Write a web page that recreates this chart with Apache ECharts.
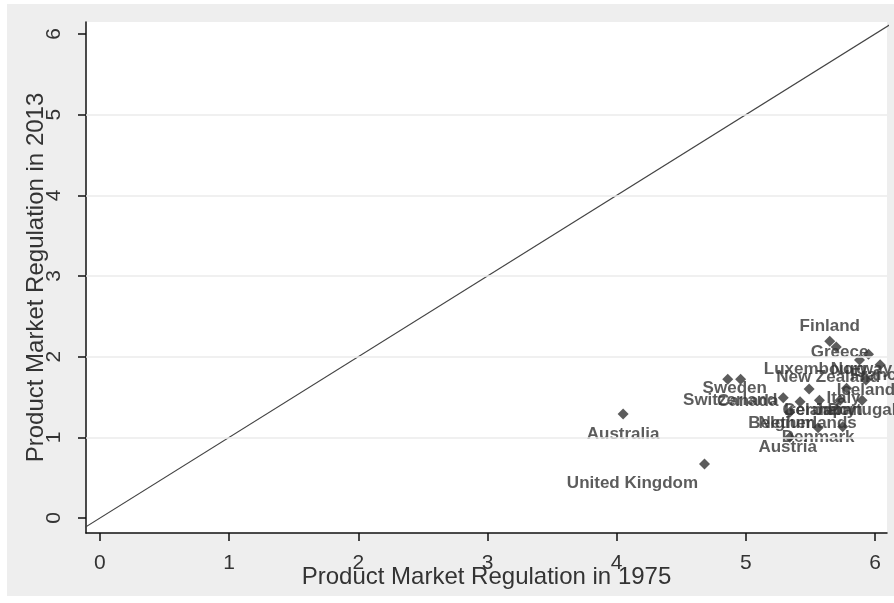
<!DOCTYPE html>
<html>
<head>
<meta charset="utf-8">
<title>Product Market Regulation, 1975 vs 2013</title>
<script src="https://cdn.jsdelivr.net/npm/echarts@6/dist/echarts.min.js"></script>
<style>
  html, body { margin: 0; padding: 0; background: #ffffff; }
  #chart { width: 894px; height: 603px; }
</style>
</head>
<body>
<div id="chart"></div>
<script>
// Country scores on the product market regulation index
const countries = [
  'Australia', 'United Kingdom', 'Finland', 'Greece', 'Luxembourg', 'Norway',
  'New Zealand', 'Iceland', 'Italy', 'Ireland', 'Portugal', 'Japan',
  'Belgium', 'Netherlands', 'Denmark', 'Austria', 'Sweden', 'Canada',
  'Switzerland', 'France', 'Germany'
];
const pmr1975 = [
  4.05, 4.68, 5.65, 5.95, 5.70, 5.88,
  5.49, 5.93, 5.78, 5.42, 5.90, 5.73,
  5.34, 5.75, 5.56, 5.34, 4.86, 4.96,
  5.29, 6.04, 5.57
];
const pmr2013 = [
  1.29, 0.67, 2.19, 2.03, 2.12, 1.96,
  1.60, 1.71, 1.61, 1.44, 1.46, 1.46,
  1.31, 1.13, 1.12, 1.00, 1.72, 1.72,
  1.49, 1.90, 1.46
];
const xTicks = [0, 1, 2, 3, 4, 5, 6];
const yTicks = [0, 1, 2, 3, 4, 5, 6];
// Horizontal grid lines
const yGrid = [1, 2, 3, 4, 5];
// 45-degree reference line y = x over this span
const diagonalSpan = [-0.2, 6.2];

// Marker label placement (pixel offset of the label centre from its marker)
const labelOffset = {
  'Australia': [0, 20], 'United Kingdom': [-72, 19], 'Finland': [0, -15],
  'Greece': [-29, -2], 'Luxembourg': [-21, 22], 'Norway': [2, 9],
  'New Zealand': [19, -12], 'Iceland': [0, 10], 'Italy': [-3, 10],
  'Ireland': [12, 8], 'Portugal': [0, 10], 'Japan': [-2, 10],
  'Belgium': [-8, 11], 'Netherlands': [-35, -4], 'Denmark': [0, 10],
  'Austria': [-2, 10], 'Sweden': [7, 9], 'Canada': [7, 22],
  'Switzerland': [-53, 3], 'France': [-2, 11], 'Germany': [0, 10]
};

const points = countries.map((name, i) => ({
  name: name,
  value: [pmr1975[i], pmr2013[i]],
  label: { offset: labelOffset[name] || [0, 12] }
}));

const FONT = '"Liberation Sans", Arial, sans-serif';
const AXIS_COLOR = '#111111';
const TEXT_COLOR = '#333333';

const chart = echarts.init(document.getElementById('chart'), null, { renderer: 'canvas' });

chart.setOption({
  animation: false,
  backgroundColor: '#ffffff',
  textStyle: { fontFamily: FONT },
  graphic: [{
    type: 'rect',
    z: -10,
    silent: true,
    shape: { x: 7, y: 4, width: 887, height: 592 },
    style: { fill: '#eeeeee' }
  }],
  grid: {
    left: 86, right: 7, top: 22, bottom: 70,
    show: true, backgroundColor: '#ffffff', borderWidth: 0
  },
  xAxis: {
    type: 'value',
    min: -0.108, max: 6.093,
    name: 'Product Market Regulation in 1975',
    nameLocation: 'middle',
    nameGap: 32,
    nameMoveOverlap: false,
    nameTextStyle: { fontSize: 24, color: TEXT_COLOR, fontFamily: FONT },
    axisLine: { onZero: false, lineStyle: { color: AXIS_COLOR, width: 1.5 } },
    axisTick: { customValues: xTicks, length: 8, lineStyle: { color: AXIS_COLOR, width: 1.5 } },
    axisLabel: { customValues: xTicks, margin: 20, fontSize: 21, color: TEXT_COLOR, fontFamily: FONT },
    splitLine: { show: false }
  },
  yAxis: {
    type: 'value',
    min: -0.186, max: 6.149,
    name: 'Product Market Regulation in 2013',
    nameLocation: 'middle',
    nameRotate: 90,
    nameGap: 38,
    nameMoveOverlap: false,
    nameTextStyle: { fontSize: 24, color: TEXT_COLOR, fontFamily: FONT },
    axisLine: { onZero: false, lineStyle: { color: AXIS_COLOR, width: 1.5 } },
    axisTick: { customValues: yTicks, length: 8, lineStyle: { color: AXIS_COLOR, width: 1.5 } },
    axisLabel: { customValues: yTicks, rotate: 90, margin: 21, fontSize: 21, color: TEXT_COLOR, fontFamily: FONT },
    splitLine: { show: false }
  },
  series: [
    {
      type: 'line',
      data: diagonalSpan.map(v => [v, v]),
      symbol: 'none',
      clip: true,
      silent: true,
      lineStyle: { color: '#444444', width: 1.2 },
      markLine: {
        silent: true,
        symbol: 'none',
        label: { show: false },
        lineStyle: { color: '#ebebeb', width: 1.5, type: 'solid' },
        data: yGrid.map(v => ({ yAxis: v }))
      },
      z: 2
    },
    {
      type: 'scatter',
      data: points,
      symbol: 'diamond',
      symbolSize: [11, 11],
      itemStyle: { color: '#333333' },
      label: {
        show: true,
        position: 'inside',
        formatter: '{b}',
        fontSize: 17,
        fontWeight: 'bold',
        color: TEXT_COLOR,
        fontFamily: FONT
      },
      z: 3
    }
  ]
});
</script>
</body>
</html>
